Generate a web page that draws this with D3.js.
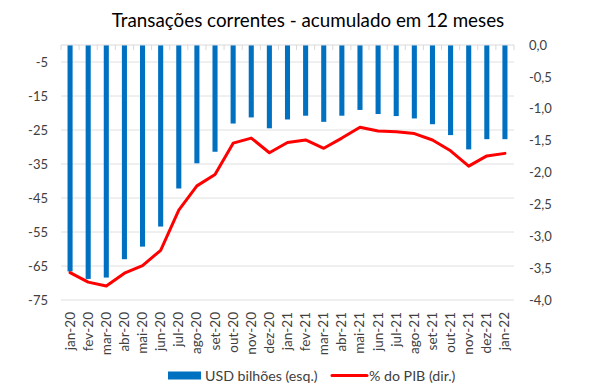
<!DOCTYPE html>
<html><head><meta charset="utf-8">
<script src="https://cdn.jsdelivr.net/npm/d3@7"></script>
<style>body{margin:0;background:#fff}svg{display:block}</style>
</head><body>
<svg id="c" width="590" height="389"></svg>
<script>
const categories = ["jan-20","fev-20","mar-20","abr-20","mai-20","jun-20","jul-20","ago-20","set-20","out-20","nov-20","dez-20","jan-21","fev-21","mar-21","abr-21","mai-21","jun-21","jul-21","ago-21","set-21","out-21","nov-21","dez-21","jan-22"];
const usdBilhoes = [-66.6,-68.8,-68.4,-63.0,-59.3,-53.4,-42.2,-34.8,-31.4,-23.1,-21.3,-24.5,-21.9,-20.8,-22.6,-20.8,-19.1,-20.3,-20.9,-21.6,-23.3,-26.5,-30.7,-27.7,-27.7];
const pctPIB = [-3.57,-3.72,-3.78,-3.58,-3.46,-3.22,-2.59,-2.21,-2.03,-1.54,-1.46,-1.69,-1.53,-1.49,-1.62,-1.46,-1.29,-1.35,-1.36,-1.39,-1.49,-1.66,-1.90,-1.74,-1.70];
const leftTicks = [-5,-15,-25,-35,-45,-55,-65,-75];
const rightTicks = [0,-0.5,-1,-1.5,-2,-2.5,-3,-3.5,-4];
const title = "Transações correntes - acumulado em 12 meses";
const legendLabels = ["USD bilhões (esq.)","% do PIB (dir.)"];

const font = "Lato, 'Open Sans', sans-serif";
const svg = d3.select("#c");
const m = {left:61, right:76, top:45, bottom:89};
const W = 590, H = 389;
const x = d3.scaleBand().domain(categories).range([m.left, W - m.right]).paddingInner(0.72).paddingOuter(0.36);
const yL = d3.scaleLinear().domain([0,-75]).range([m.top, H - m.bottom]);
const yR = d3.scaleLinear().domain([0,-4]).range([m.top, H - m.bottom]);
const fmt = d => d3.format(".1f")(d).replace("−","-").replace(".",",");

// title
svg.append("text").attr("x", 308).attr("y", 27).attr("text-anchor","middle")
  .attr("font-family", font).attr("font-size", 18.8).attr("fill","#000").text(title);

// gridlines (left axis)
svg.append("g").selectAll("line").data(leftTicks).join("line")
  .attr("x1", m.left).attr("x2", W - m.right)
  .attr("y1", d => yL(d)).attr("y2", d => yL(d))
  .attr("stroke", "#e0e0e0").attr("stroke-width", 1);

// bars
svg.append("g").selectAll("rect").data(categories).join("rect")
  .attr("x", d => x(d)).attr("width", x.bandwidth())
  .attr("y", yL(0)).attr("height", (d,i) => yL(usdBilhoes[i]) - yL(0))
  .attr("fill", "#0070c0");

// top category axis (zero line) with boundary ticks
const bounds = d3.range(categories.length + 1).map(i => m.left + i * (W - m.left - m.right) / categories.length);
const gTop = svg.append("g");
gTop.append("line").attr("x1", m.left).attr("x2", W - m.right).attr("y1", yL(0)).attr("y2", yL(0))
  .attr("stroke", "#d9d9d9");
gTop.selectAll("line.t").data(bounds).join("line").attr("class","t")
  .attr("x1", d => d).attr("x2", d => d).attr("y1", yL(0)).attr("y2", yL(0) + 5)
  .attr("stroke", "#d9d9d9");

// line
const line = d3.line().x((d,i) => x(categories[i]) + x.bandwidth()/2).y(d => yR(d)).curve(d3.curveLinear);
svg.append("path").datum(pctPIB).attr("d", line).attr("fill","none")
  .attr("stroke", "#ff0000").attr("stroke-width", 3).attr("stroke-linejoin","round").attr("stroke-linecap","round");

// left axis
const gl = svg.append("g").attr("transform", `translate(${m.left - 13},0)`)
  .call(d3.axisLeft(yL).tickValues(leftTicks).tickSize(0).tickPadding(0).tickFormat(d => String(d)));
gl.select(".domain").remove();
gl.selectAll("text").attr("font-family", font).attr("font-size", 13).attr("fill", "#404040");

// right axis
const gr = svg.append("g").attr("transform", `translate(${W - m.right + 15},0)`)
  .call(d3.axisRight(yR).tickValues(rightTicks).tickSize(0).tickPadding(0).tickFormat(fmt));
gr.select(".domain").remove();
gr.selectAll("text").attr("font-family", font).attr("font-size", 13).attr("fill", "#404040");

// x labels (rotated)
svg.append("g").selectAll("text").data(categories).join("text")
  .attr("transform", d => `translate(${x(d) + x.bandwidth()/2 + 4.5},${H - m.bottom + 12}) rotate(-90)`)
  .attr("text-anchor","end").attr("font-family", font).attr("font-size", 13.5).attr("fill","#404040")
  .text(d => d);

// legend
const lg = svg.append("g");
lg.append("rect").attr("x", 168).attr("y", 371.5).attr("width", 33).attr("height", 8).attr("fill", "#0070c0");
lg.append("text").attr("x", 205).attr("y", 380.5).attr("font-family", font).attr("font-size", 14.2).attr("fill","#404040").text(legendLabels[0]);
lg.append("line").attr("x1", 332).attr("x2", 367).attr("y1", 375.5).attr("y2", 375.5).attr("stroke","#ff0000").attr("stroke-width",3).attr("stroke-linecap","round");
lg.append("text").attr("x", 369).attr("y", 380.5).attr("font-family", font).attr("font-size", 14.2).attr("fill","#404040").text(legendLabels[1]);
</script>
</body></html>
